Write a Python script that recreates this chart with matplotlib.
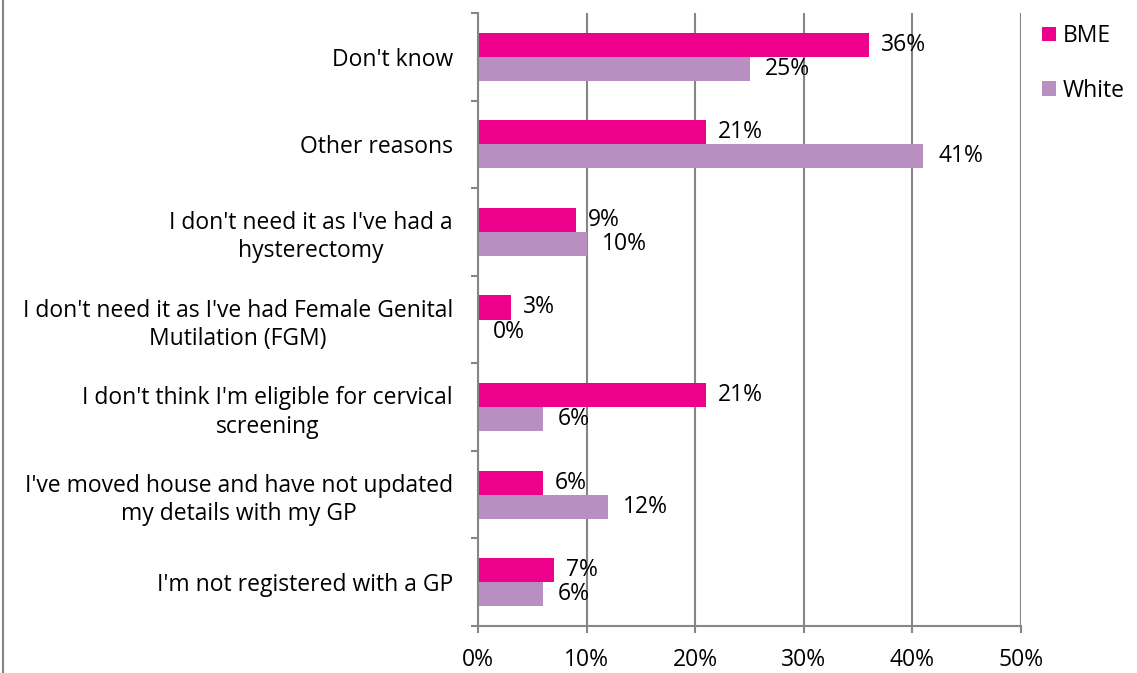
import matplotlib.pyplot as plt
from matplotlib.lines import Line2D
import numpy as np

categories = ["Don't know",
              "Other reasons",
              "I don't need it as I've had a\nhysterectomy",
              "I don't need it as I've had Female Genital\nMutilation (FGM)",
              "I don't think I'm eligible for cervical\nscreening",
              "I've moved house and have not updated\nmy details with my GP",
              "I'm not registered with a GP"]
bme = [36, 21, 9, 3, 21, 6, 7]
white = [25, 41, 10, 0, 6, 12, 6]
xticks = [0, 10, 20, 30, 40, 50]

pink = "#EC008C"
lilac = "#B98FC2"
grey = "#868686"

plt.rcParams['font.family'] = ['Open Sans', 'DejaVu Sans']
fs = 16.5

fig = plt.figure(figsize=(11.37, 6.73), dpi=100)
ax = fig.add_axes([478/1137, 1-626/673, (1021-478)/1137, (626-13)/673])

y = np.arange(len(categories))
h = 0.275
ax.barh(y - h/2, bme, height=h, color=pink, label="BME", zorder=3)
ax.barh(y + h/2, white, height=h, color=lilac, label="White", zorder=3)

for i in range(len(categories)):
    ax.annotate(f"{bme[i]}%", (bme[i], y[i] - h/2), xytext=(12, 0), textcoords="offset pixels",
                va="center", ha="left", fontsize=fs)
    ax.annotate(f"{white[i]}%", (white[i], y[i] + h/2), xytext=(15, 0), textcoords="offset pixels",
                va="center", ha="left", fontsize=fs)

ax.set_xlim(0, 50)
ax.set_ylim(len(categories) - 0.5, -0.5)
ax.set_xticks(xticks)
ax.set_xticklabels([f"{t}%" for t in xticks], fontsize=fs)
ax.set_yticks(y)
ax.set_yticklabels(categories, fontsize=fs, multialignment="center", linespacing=1.25)
ax.set_yticks(np.arange(-0.5, len(categories)), minor=True)
ax.tick_params(axis="y", which="major", length=0, pad=18)
ax.tick_params(axis="y", which="minor", length=5, width=1.5, color=grey)
ax.tick_params(axis="x", length=5, width=1.5, color=grey, pad=11)

ax.grid(axis="x", color=grey, linewidth=1.5, zorder=0)
for s in ["top", "right"]:
    ax.spines[s].set_visible(False)
for s in ["left", "bottom"]:
    ax.spines[s].set_color(grey)
    ax.spines[s].set_linewidth(1.5)
    ax.spines[s].set_zorder(4)

leg = fig.legend(loc="upper left", bbox_to_anchor=(1042/1137, 1-24/673), frameon=False, fontsize=fs,
                 handlelength=0.62, handleheight=0.62, handletextpad=0.3, labelspacing=1.35,
                 borderpad=0, borderaxespad=0)

fig.add_artist(Line2D([3/1137, 3/1137], [0, 1], color=grey, linewidth=1.5))

fig.savefig("out.png", dpi=100)
